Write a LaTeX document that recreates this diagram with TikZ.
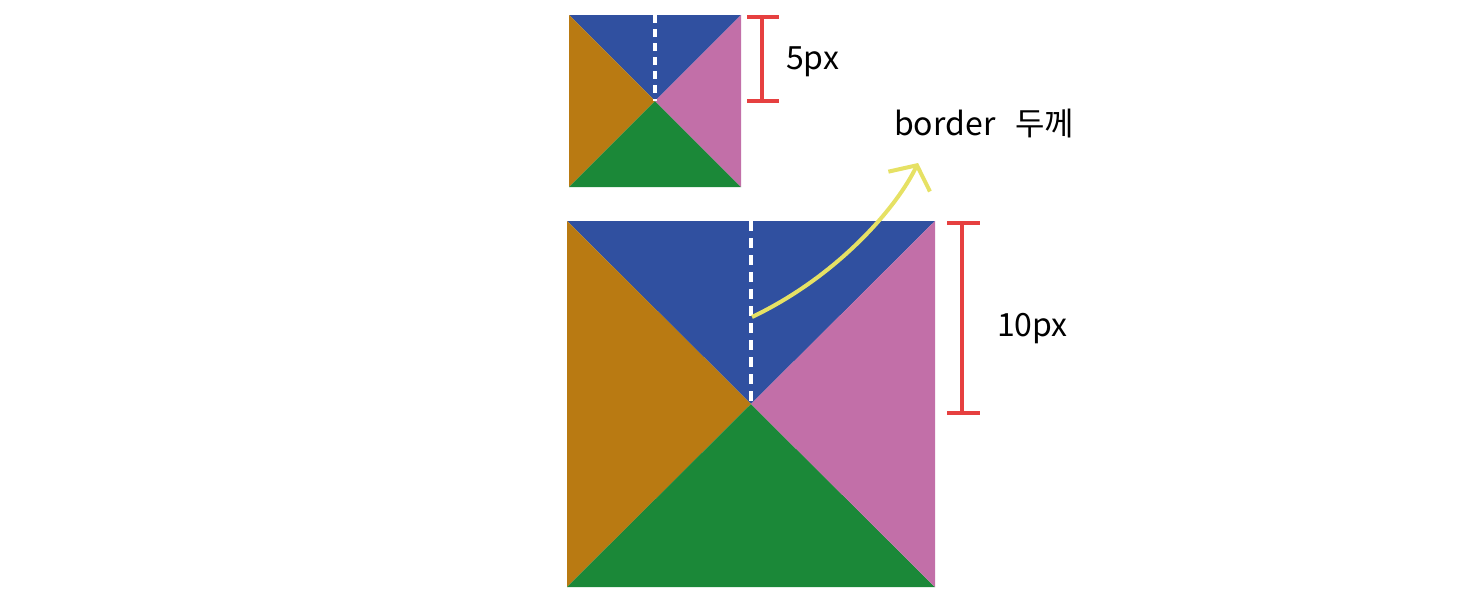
\documentclass[tikz,border=0pt]{standalone}
\usepackage{fontspec}
\setmainfont{Noto Sans CJK KR}
\usetikzlibrary{arrows.meta}
\definecolor{cblue}{RGB}{48,80,160}
\definecolor{corange}{RGB}{185,122,18}
\definecolor{cpink}{RGB}{194,111,168}
\definecolor{cgreen}{RGB}{27,136,56}
\definecolor{cred}{RGB}{230,64,64}
\definecolor{cyellow}{RGB}{230,225,100}
\tikzset{
  bordermark/.style={draw=white, line width=4pt, dash pattern=on 10pt off 7pt},
  measure/.style={draw=cred, line width=4pt},
  lbl/.style={anchor=base west, inner sep=0pt, font=\fontsize{32}{36}\selectfont},
}
\begin{document}
\begin{tikzpicture}[x=1pt,y=-1pt]
\useasboundingbox (0,0) rectangle (1474,597);
% small box
\coordinate (sTL) at (569,15); \coordinate (sTR) at (741,15);
\coordinate (sBL) at (569,187); \coordinate (sBR) at (741,187);
\coordinate (sC) at (655,101); \coordinate (sT) at (655,15);
\fill[cblue] (sTL) -- (sTR) -- (sC) -- cycle;
\fill[corange] (sTL) -- (sBL) -- (sC) -- cycle;
\fill[cgreen] (sBL) -- (sBR) -- (sC) -- cycle;
\fill[cpink] (sTR) -- (sBR) -- (sC) -- cycle;
\draw[bordermark, dash pattern=on 8pt off 6pt] (sT) -- (sC);
% large box
\coordinate (bTL) at (567,221); \coordinate (bTR) at (935,221);
\coordinate (bBL) at (567,587); \coordinate (bBR) at (935,587);
\coordinate (bC) at (751,404); \coordinate (bT) at (751,221);
\fill[cblue] (bTL) -- (bTR) -- (bC) -- cycle;
\fill[corange] (bTL) -- (bBL) -- (bC) -- cycle;
\fill[cgreen] (bBL) -- (bBR) -- (bC) -- cycle;
\fill[cpink] (bTR) -- (bBR) -- (bC) -- cycle;
\draw[bordermark] (bT) -- (bC);
% measures
\coordinate (m1a) at (762,17); \coordinate (m1b) at (762,101);
\draw[measure] (m1a) -- (m1b);
\draw[measure] ([xshift=-15pt]m1a) -- ([xshift=17pt]m1a);
\draw[measure] ([xshift=-15pt]m1b) -- ([xshift=17pt]m1b);
\coordinate (m2a) at (962,223); \coordinate (m2b) at (962,413);
\draw[measure] (m2a) -- (m2b);
\draw[measure] ([xshift=-15pt]m2a) -- ([xshift=18pt]m2a);
\draw[measure] ([xshift=-15pt]m2b) -- ([xshift=18pt]m2b);
% labels
\node[lbl] (l5) at (786,69) {5px};
\node[lbl] (l10) at (997,336) {10px};
\node[lbl] (lb) at (894,135) {border\hspace*{20pt}두께};
% arrow
\coordinate (aS) at (752,317);
\coordinate (aE) at (918,163);
\draw[cyellow, line width=4pt, -{Straight Barb[length=18pt,width=46pt]}]
  (aS) .. controls (840,275) and (898,205) .. (aE);
\end{tikzpicture}
\end{document}
